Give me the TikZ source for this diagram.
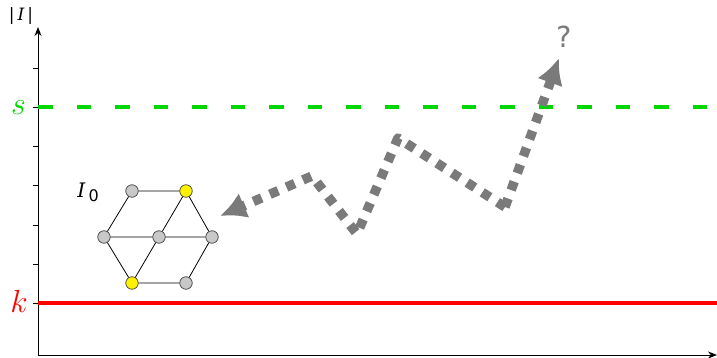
\RequirePackage{fix-cm}
\documentclass[tikz,border=0pt]{standalone}
\usepackage{amsmath}
\usepackage{fontspec}
\newfontfamily\dejavu{DejaVu Sans}
\newfontfamily\dejaserif{DejaVu Serif}
\usetikzlibrary{arrows.meta}
\definecolor{bndgreen}{RGB}{0,214,0}
\definecolor{walkgray}{RGB}{122,122,122}
\definecolor{vtxgray}{RGB}{200,200,200}
\tikzset{
  vtx/.style={circle,draw=black!75,fill=vtxgray,inner sep=0pt,minimum size=12.5pt,line width=0.7pt},
  hit/.style={vtx,fill=yellow},
  walk/.style={line width=9.5pt,walkgray,dash pattern=on 9pt off 9pt,line join=round}
}
\begin{document}
\begin{tikzpicture}[x=1pt,y=-1pt]
  \useasboundingbox (0,0) rectangle (717,358);
  % axes
  \draw[line width=1pt,-{Stealth[length=9pt,width=7pt]}] (38,355) -- (38,27);
  \draw[line width=1pt,-{Stealth[length=9pt,width=7pt]}] (38,355) -- (717,355);
  \foreach \y in {69,108,...,303}
    \draw[line width=1pt] (33,\y) -- (38,\y);
  \node (ylab) [font=\dejaserif\fontsize{17}{20}\selectfont,inner sep=0pt] at (21,16)
    {|\,\itshape I\/\upshape\,|};
  % bounds
  \draw[bndgreen,line width=4.5pt,dash pattern=on 14.5pt off 24pt] (38,107) -- (717,107);
  \draw[red,line width=4.5pt] (38,303) -- (717,303);
  \node (slab) [bndgreen,font=\fontsize{32}{38}\selectfont,inner sep=0pt] at (18.5,107.5) {$s$};
  \node (klab) [red,font=\fontsize{32}{38}\selectfont,inner sep=0pt] at (19,301.5) {$k$};
  % instance I_0
  \node (tl) [vtx] at (132,191) {};
  \node (tr) [hit] at (186,191) {};
  \node (ml) [vtx] at (104,237) {};
  \node (mc) [vtx] at (159,237) {};
  \node (mr) [vtx] at (212,237) {};
  \node (bl) [hit] at (132,283) {};
  \node (br) [vtx] at (186,283) {};
  \draw[black,line width=0.8pt]
        (tl)--(tr) (tl)--(ml) (tr)--(mc) (tr)--(mr) (ml)--(mc) (mc)--(mr)
        (ml)--(bl) (mc)--(bl) (mr)--(br) (bl)--(br);
  \node (lab) [font=\dejaserif\itshape\fontsize{20}{24}\selectfont,inner sep=0pt] at (88,192)
    {I\,\raisebox{-4pt}{\dejavu\upshape\fontsize{16}{19}\selectfont 0}};
  % local search walk
  \coordinate (w0) at (505,207);
  \coordinate (w1) at (398,138);
  \coordinate (w2) at (357,234);
  \coordinate (w3) at (312,176);
  \coordinate (wa) at (220,216);
  \coordinate (wb) at (559,58);
  \draw[walk,-{Latex[length=26pt,width=27pt]}] (w0) -- (w1) -- (w2) -- (w3) -- (wa);
  \draw[walk,-{Latex[length=26pt,width=27pt]}] (w0) -- (wb);
  \node (q) [walkgray,font=\dejavu\fontsize{29}{34}\selectfont,inner sep=0pt] at (564,37) {?};
\end{tikzpicture}
\end{document}
